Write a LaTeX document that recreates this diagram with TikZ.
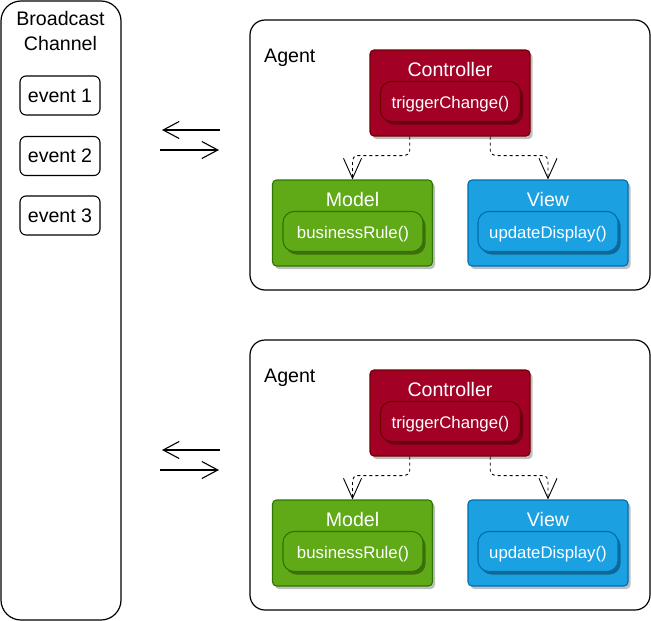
\documentclass[tikz,border=0pt]{standalone}
\usepackage{fontspec}
\setmainfont{Liberation Sans}
\usetikzlibrary{arrows.meta,shadows,calc}
\definecolor{ctrlfill}{HTML}{A20025}
\definecolor{ctrlline}{HTML}{6F0000}
\definecolor{modelfill}{HTML}{60A917}
\definecolor{modelline}{HTML}{2D7600}
\definecolor{viewfill}{HTML}{1BA1E2}
\definecolor{viewline}{HTML}{006EAF}
\begin{document}
\begin{tikzpicture}[x=1pt,y=-1pt,
  bigtxt/.style={font=\fontsize{19.6}{25}\selectfont},
  smalltxt/.style={font=\fontsize{16.8}{20}\selectfont},
  channel/.style={draw=black, line width=1.2pt, rounded corners=20pt, minimum width=120pt, minimum height=619pt, inner sep=0pt},
  container/.style={draw=black, line width=1.2pt, rounded corners=15pt, minimum width=400pt, minimum height=270pt, inner sep=0pt},
  eventbox/.style={draw=black, line width=1.1pt, rounded corners=6pt, minimum width=80pt, minimum height=39pt, inner sep=0pt, bigtxt},
  classbox/.style n args={2}{draw=#2, fill=#1, line width=1.1pt, rounded corners=4pt, minimum width=160pt, minimum height=86pt, inner sep=0pt,
     drop shadow={shadow xshift=2.5pt, shadow yshift=-3pt, opacity=0.25, fill=black}},
  methodbox/.style n args={2}{draw=#2, fill=#1, line width=1.1pt, rounded corners=11pt, minimum width=140pt, minimum height=40pt, inner sep=0pt,
     drop shadow={shadow xshift=2.5pt, shadow yshift=-3pt, opacity=0.35, fill=black}},
  methodtxt/.style={text=white, smalltxt, inner sep=0pt, anchor=base},
  titletxt/.style={text=white, bigtxt, inner sep=0pt, anchor=base},
  conn/.style={draw=black, line width=0.9pt, dash pattern=on 3pt off 3pt, rounded corners=5pt, -{Straight Barb[length=20pt,width=18pt,line width=0.9pt]}},
  msg/.style={draw=black, line width=1.1pt, -{Straight Barb[length=16pt,width=17pt,line width=1.1pt]}}
]
\useasboundingbox (0,0) rectangle (651,621);

% broadcast channel
\node[channel] (bc) at (61,310.5) {};
\node[bigtxt, align=center, inner sep=0pt] (bctitle) at (60.5,31) {Broadcast\\Channel};
\node[eventbox] (ev1) at (60,95.5) {event 1};
\node[eventbox] (ev2) at (60,156) {event 2};
\node[eventbox] (ev3) at (60,215.5) {event 3};

\foreach \i/\o in {1/0,2/320}{
\begin{scope}[shift={(0,\o)}]
  \node[container] (agent\i) at (450,155) {};
  \node[bigtxt, anchor=base west, inner sep=0pt] (agentlbl\i) at (264,62.7) {Agent};
  % controller
  \node[classbox={ctrlfill}{ctrlline}] (ctrl\i) at (450,93) {};
  \node[titletxt] (ctrlt\i) at (450,76.5) {Controller};
  \node[methodbox={ctrlfill}{ctrlline}] (ctrlm\i) at (450.5,101.5) {};
  \node[methodtxt] (ctrlmt\i) at (450.5,108) {triggerChange()};
  % model
  \node[classbox={modelfill}{modelline}] (model\i) at (352.5,223) {};
  \node[titletxt] (modelt\i) at (352.5,206.5) {Model};
  \node[methodbox={modelfill}{modelline}] (modelm\i) at (353,231.5) {};
  \node[methodtxt] (modelmt\i) at (353,238) {businessRule()};
  % view
  \node[classbox={viewfill}{viewline}] (view\i) at (548,223) {};
  \node[titletxt] (viewt\i) at (548,206.5) {View};
  \node[methodbox={viewfill}{viewline}] (viewm\i) at (548,231.5) {};
  \node[methodtxt] (viewmt\i) at (548,238) {updateDisplay()};
  % connectors
  \coordinate (cl\i) at ($(ctrl\i.south west)!0.25!(ctrl\i.south east)$);
  \coordinate (cr\i) at ($(ctrl\i.south west)!0.75!(ctrl\i.south east)$);
  \draw[conn] (cl\i) -- ++(0,19) -| (model\i.north);
  \draw[conn] (cr\i) -- ++(0,19) -| (view\i.north);
  % messages
  \coordinate (ml\i) at (162,130);
  \coordinate (mr\i) at (220,130);
  \coordinate (nl\i) at (160,150);
  \coordinate (nr\i) at (219,150);
  \draw[msg] (mr\i) -- (ml\i);
  \draw[msg] (nl\i) -- (nr\i);
\end{scope}
}
\end{tikzpicture}
\end{document}
